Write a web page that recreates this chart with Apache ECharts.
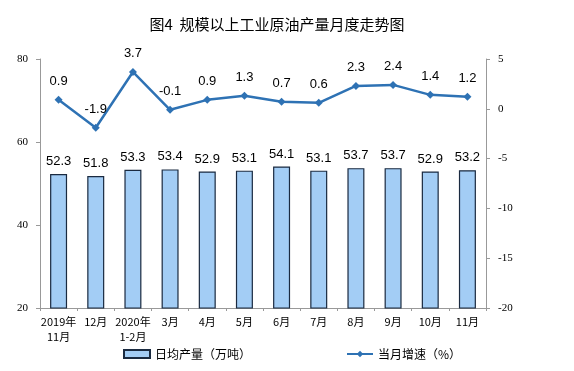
<!DOCTYPE html>
<html><head><meta charset="utf-8">
<script src="https://cdn.jsdelivr.net/npm/echarts@6/dist/echarts.min.js"></script>
<style>html,body{margin:0;padding:0;background:#fff}#c{width:574px;height:371px}</style>
</head><body><div id="c"></div>
<script>
const categories = ['2019年\n11月','12月','2020年\n1-2月','3月','4月','5月','6月','7月','8月','9月','10月','11月'];
const dailyOutput = [52.3,51.8,53.3,53.4,52.9,53.1,54.1,53.1,53.7,53.7,52.9,53.2];
const growthRate = [0.9,-1.9,3.7,-0.1,0.9,1.3,0.7,0.6,2.3,2.4,1.4,1.2];
const leftTicks = [20,40,60,80];
const rightTicks = [-20,-15,-10,-5,0,5];

const chart = echarts.init(document.getElementById('c'));
const serif = 'Liberation Serif';
chart.setOption({
  animation:false,
  title:{text:'图4  规模以上工业原油产量月度走势图',left:272,textAlign:'center',top:12,
    textStyle:{fontFamily:'Noto Sans CJK SC',fontSize:15,fontWeight:'normal',color:'#000'}},
  legend:{bottom:6,left:118,itemGap:95,itemWidth:26,itemHeight:8,
    textStyle:{fontFamily:'Noto Sans CJK SC',fontSize:12,color:'#000'},
    data:[{name:'日均产量（万吨）',icon:'rect'},{name:'当月增速（%）'}]},
  grid:{left:40,right:88,top:59,bottom:63},
  xAxis:{type:'category',data:categories,
    axisLine:{onZero:false,lineStyle:{color:'#999'}},axisTick:{show:true,alignWithLabel:false,length:3,lineStyle:{color:'#999'}},
    axisLabel:{fontFamily:'Noto Sans CJK SC',fontSize:11,color:'#000',margin:6,lineHeight:15,interval:0}},
  yAxis:[
    {type:'value',min:leftTicks[0],max:leftTicks[leftTicks.length-1],interval:20,
      axisLine:{show:true,lineStyle:{color:'#999'}},axisTick:{show:true,length:4,lineStyle:{color:'#999'}},
      splitLine:{show:false},axisLabel:{fontFamily:serif,fontSize:11,color:'#000',margin:12}},
    {type:'value',min:rightTicks[0],max:rightTicks[rightTicks.length-1],interval:5,
      axisLine:{show:true,lineStyle:{color:'#999'}},axisTick:{show:true,length:4,lineStyle:{color:'#999'}},
      splitLine:{show:false},axisLabel:{fontFamily:serif,fontSize:11,color:'#000',margin:12}}
  ],
  series:[
    {name:'日均产量（万吨）',type:'bar',data:dailyOutput,barWidth:17,
      itemStyle:{color:'#A3CDF5',borderColor:'#1a2a40',borderWidth:1.2},
      label:{show:true,position:'top',distance:6,fontFamily:'Liberation Sans',fontSize:13,color:'#000'}},
    {name:'当月增速（%）',type:'line',yAxisIndex:1,data:growthRate,symbol:'diamond',symbolSize:8,
      lineStyle:{color:'#2E72B4',width:2.5},itemStyle:{color:'#2E72B4'},
      label:{show:true,position:'top',distance:8,fontFamily:'Liberation Sans',fontSize:13,color:'#000'}}
  ]
});
</script></body></html>
